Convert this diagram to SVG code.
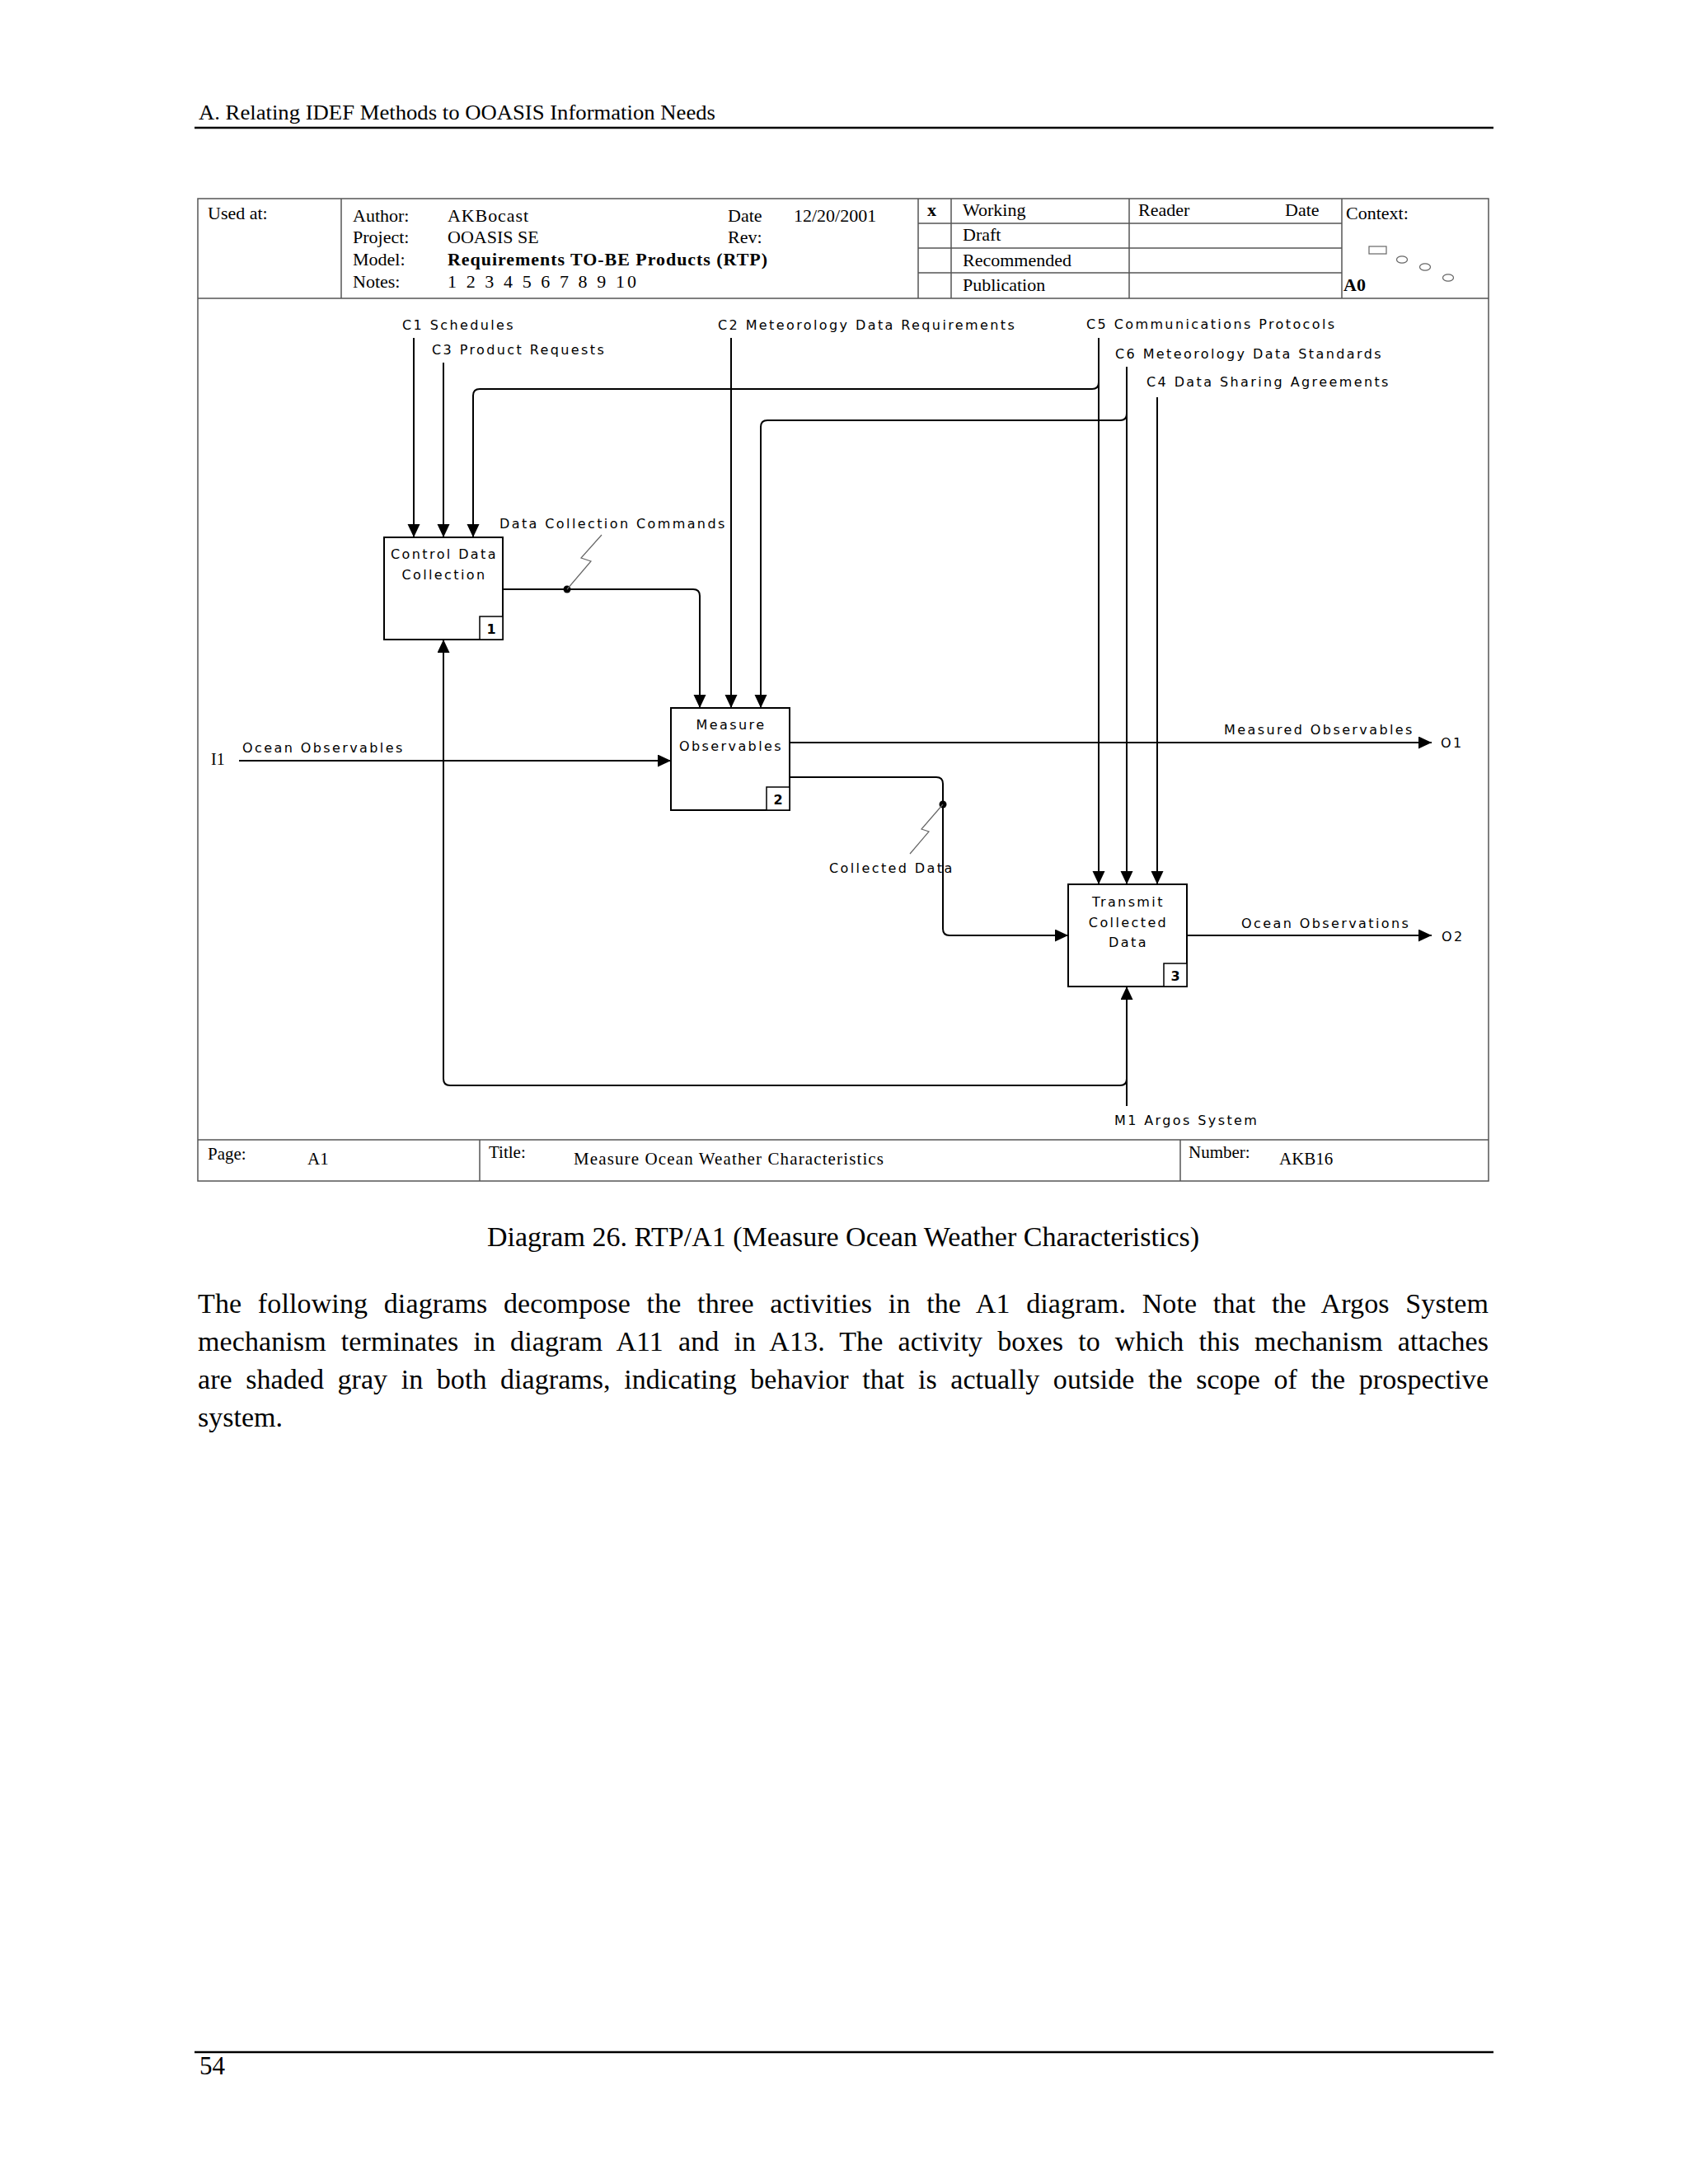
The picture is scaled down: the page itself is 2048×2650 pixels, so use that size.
<svg xmlns="http://www.w3.org/2000/svg" width="2048" height="2650" viewBox="0 0 2048 2650">
<style>
.serif{font-family:"Liberation Serif","Times New Roman",serif;fill:#000}
.hd{font-size:22px}
.lbl{font-family:"DejaVu Sans",Verdana,sans-serif;font-size:16px;letter-spacing:2.4px;fill:#000}
.num{font-family:"DejaVu Sans",Verdana,sans-serif;font-size:16px;font-weight:bold;fill:#000}
.box{fill:#fff;stroke:#000;stroke-width:2}
.nbox{fill:#fff;stroke:#000;stroke-width:1.5}
.fr{fill:none;stroke:#555;stroke-width:1.5}
.con{fill:none;stroke:#000;stroke-width:2}
.sq{fill:none;stroke:#666;stroke-width:1.2}
.body{font-size:34px}
</style>
<defs>
<marker id="arr" markerWidth="16" markerHeight="16" refX="16" refY="7.5" orient="auto" markerUnits="userSpaceOnUse">
<path d="M0,0 L16,7.5 L0,15 z" fill="#000"/>
</marker>
</defs>
<rect width="2048" height="2650" fill="#fff"/>

<g id="page-header">
<text class="serif" x="241" y="145" font-size="25" textLength="627" lengthAdjust="spacingAndGlyphs">A. Relating IDEF Methods to OOASIS Information Needs</text>
<line x1="236" y1="155" x2="1812" y2="155" stroke="#000" stroke-width="2.5"/>
</g>

<g id="frame">
<rect class="fr" x="240" y="241" width="1566" height="1192"/>
<line class="fr" x1="240" y1="362" x2="1806" y2="362"/>
<line class="fr" x1="414" y1="241" x2="414" y2="362"/>
<line class="fr" x1="1114" y1="241" x2="1114" y2="362"/>
<line class="fr" x1="1154" y1="241" x2="1154" y2="362"/>
<line class="fr" x1="1370" y1="241" x2="1370" y2="362"/>
<line class="fr" x1="1628" y1="241" x2="1628" y2="362"/>
<line class="fr" x1="1114" y1="271" x2="1628" y2="271"/>
<line class="fr" x1="1114" y1="301" x2="1628" y2="301"/>
<line class="fr" x1="1114" y1="331" x2="1628" y2="331"/>
<line class="fr" x1="240" y1="1383" x2="1806" y2="1383"/>
<line class="fr" x1="582" y1="1383" x2="582" y2="1433"/>
<line class="fr" x1="1432" y1="1383" x2="1432" y2="1433"/>
<text class="serif hd" x="252" y="266">Used at:</text>
<text class="serif hd" x="428" y="269">Author:</text>
<text class="serif hd" x="428" y="295">Project:</text>
<text class="serif hd" x="428" y="322">Model:</text>
<text class="serif hd" x="428" y="349">Notes:</text>
<text class="serif hd" x="543" y="269" textLength="98">AKBocast</text>
<text class="serif hd" x="543" y="295">OOASIS SE</text>
<text class="serif hd" x="543" y="322" font-weight="bold" textLength="388">Requirements TO-BE Products (RTP)</text>
<text class="serif hd" x="543" y="349" textLength="229">1 2 3 4 5 6 7 8 9 10</text>
<text class="serif hd" x="883" y="269">Date</text>
<text class="serif hd" x="963" y="269">12/20/2001</text>
<text class="serif hd" x="883" y="295">Rev:</text>
<text class="serif hd" x="1125" y="262" font-weight="bold">x</text>
<text class="serif hd" x="1168" y="262">Working</text>
<text class="serif hd" x="1168" y="292">Draft</text>
<text class="serif hd" x="1168" y="323">Recommended</text>
<text class="serif hd" x="1168" y="353">Publication</text>
<text class="serif hd" x="1381" y="262">Reader</text>
<text class="serif hd" x="1559" y="262">Date</text>
<text class="serif hd" x="1633" y="266">Context:</text>
<text class="serif hd" x="1630" y="353" font-weight="bold">A0</text>
<rect x="1661" y="299" width="21" height="9" fill="none" stroke="#666" stroke-width="1.2"/>
<ellipse cx="1701" cy="315" rx="6.5" ry="4.2" fill="none" stroke="#666" stroke-width="1.2"/>
<ellipse cx="1729" cy="324" rx="6.5" ry="4.2" fill="none" stroke="#666" stroke-width="1.2"/>
<ellipse cx="1757" cy="337" rx="6.5" ry="4.2" fill="none" stroke="#666" stroke-width="1.2"/>
<text class="serif" font-size="21" x="252" y="1407">Page:</text>
<text class="serif" font-size="21" x="373" y="1413">A1</text>
<text class="serif" font-size="21" x="593" y="1405">Title:</text>
<text class="serif" font-size="21" x="696" y="1413" textLength="376">Measure Ocean Weather Characteristics</text>
<text class="serif" font-size="21" x="1442" y="1405">Number:</text>
<text class="serif" font-size="21" x="1552" y="1413">AKB16</text>
</g>

<g id="connectors">
<path class="con" d="M502,410 V652" marker-end="url(#arr)"/>
<path class="con" d="M538,440 V652" marker-end="url(#arr)"/>
<path class="con" d="M887,410 V859" marker-end="url(#arr)"/>
<path class="con" d="M1333,410 V1073" marker-end="url(#arr)"/>
<path class="con" d="M1333,464 Q1333,472 1325,472 H582 Q574,472 574,480 V652" marker-end="url(#arr)"/>
<path class="con" d="M1367,445 V1073" marker-end="url(#arr)"/>
<path class="con" d="M1367,502 Q1367,510 1359,510 H931 Q923,510 923,518 V859" marker-end="url(#arr)"/>
<path class="con" d="M1404,482 V1073" marker-end="url(#arr)"/>
<path class="con" d="M610,715 H841 Q849,715 849,723 V859" marker-end="url(#arr)"/>
<circle cx="688" cy="715" r="4.5" fill="#000"/>
<path class="sq" d="M688,715 L717,681 L705,677 L730,649"/>
<path class="con" d="M290,923 H814" marker-end="url(#arr)"/>
<path class="con" d="M958,901 H1737" marker-end="url(#arr)"/>
<path class="con" d="M958,943 H1136 Q1144,943 1144,951 V1127 Q1144,1135 1152,1135 H1296" marker-end="url(#arr)"/>
<circle cx="1144" cy="976" r="4.5" fill="#000"/>
<path class="sq" d="M1144,976 L1118,1006 L1127,1009 L1104,1036"/>
<path class="con" d="M1440,1135 H1737" marker-end="url(#arr)"/>
<path class="con" d="M1367,1342 V1197" marker-end="url(#arr)"/>
<path class="con" d="M1367,1309 Q1367,1317 1359,1317 H546 Q538,1317 538,1309 V776" marker-end="url(#arr)"/>
<text class="lbl" x="488" y="400">C1 Schedules</text>
<text class="lbl" x="524" y="430">C3 Product Requests</text>
<text class="lbl" x="871" y="400">C2 Meteorology Data Requirements</text>
<text class="lbl" x="1318" y="399">C5 Communications Protocols</text>
<text class="lbl" x="1353" y="435">C6 Meteorology Data Standards</text>
<text class="lbl" x="1391" y="469">C4 Data Sharing Agreements</text>
<text class="lbl" x="606" y="641">Data Collection Commands</text>
<text class="serif" font-size="20" x="256" y="928">I1</text>
<text class="lbl" x="294" y="913">Ocean Observables</text>
<text class="lbl" x="1485" y="891">Measured Observables</text>
<text class="lbl" x="1748" y="907">O1</text>
<text class="lbl" x="1006" y="1059">Collected Data</text>
<text class="lbl" x="1506" y="1126">Ocean Observations</text>
<text class="lbl" x="1749" y="1142">O2</text>
<text class="lbl" x="1352" y="1365">M1 Argos System</text>
</g>

<g id="box1">
<rect class="box" x="466" y="652" width="144" height="124"/>
<rect class="nbox" x="582" y="748" width="28" height="28"/>
<text class="num" x="596" y="769" text-anchor="middle">1</text>
<text class="lbl" x="539" y="678" text-anchor="middle">Control Data</text>
<text class="lbl" x="539" y="703" text-anchor="middle">Collection</text>
</g>
<g id="box2">
<rect class="box" x="814" y="859" width="144" height="124"/>
<rect class="nbox" x="930" y="955" width="28" height="28"/>
<text class="num" x="944" y="976" text-anchor="middle">2</text>
<text class="lbl" x="887" y="885" text-anchor="middle">Measure</text>
<text class="lbl" x="887" y="911" text-anchor="middle">Observables</text>
</g>
<g id="box3">
<rect class="box" x="1296" y="1073" width="144" height="124"/>
<rect class="nbox" x="1412" y="1169" width="28" height="28"/>
<text class="num" x="1426" y="1190" text-anchor="middle">3</text>
<text class="lbl" x="1369" y="1100" text-anchor="middle">Transmit</text>
<text class="lbl" x="1369" y="1125" text-anchor="middle">Collected</text>
<text class="lbl" x="1369" y="1149" text-anchor="middle">Data</text>
</g>

<g id="page-text">
<text class="serif body" x="1023" y="1512" text-anchor="middle">Diagram 26. RTP/A1 (Measure Ocean Weather Characteristics)</text>
<text class="serif body" x="240" y="1593" word-spacing="11" textLength="1566" lengthAdjust="spacing">The following diagrams decompose the three activities in the A1 diagram. Note that the Argos System</text>
<text class="serif body" x="240" y="1639" word-spacing="9.5" textLength="1566" lengthAdjust="spacing">mechanism terminates in diagram A11 and in A13. The activity boxes to which this mechanism attaches</text>
<text class="serif body" x="240" y="1685" word-spacing="8" textLength="1566" lengthAdjust="spacing">are shaded gray in both diagrams, indicating behavior that is actually outside the scope of the prospective</text>
<text class="serif body" x="240" y="1731">system.</text>
<line x1="236" y1="2490" x2="1812" y2="2490" stroke="#000" stroke-width="2.5"/>
<text class="serif" font-size="31" x="242" y="2517">54</text>
</g>
</svg>
